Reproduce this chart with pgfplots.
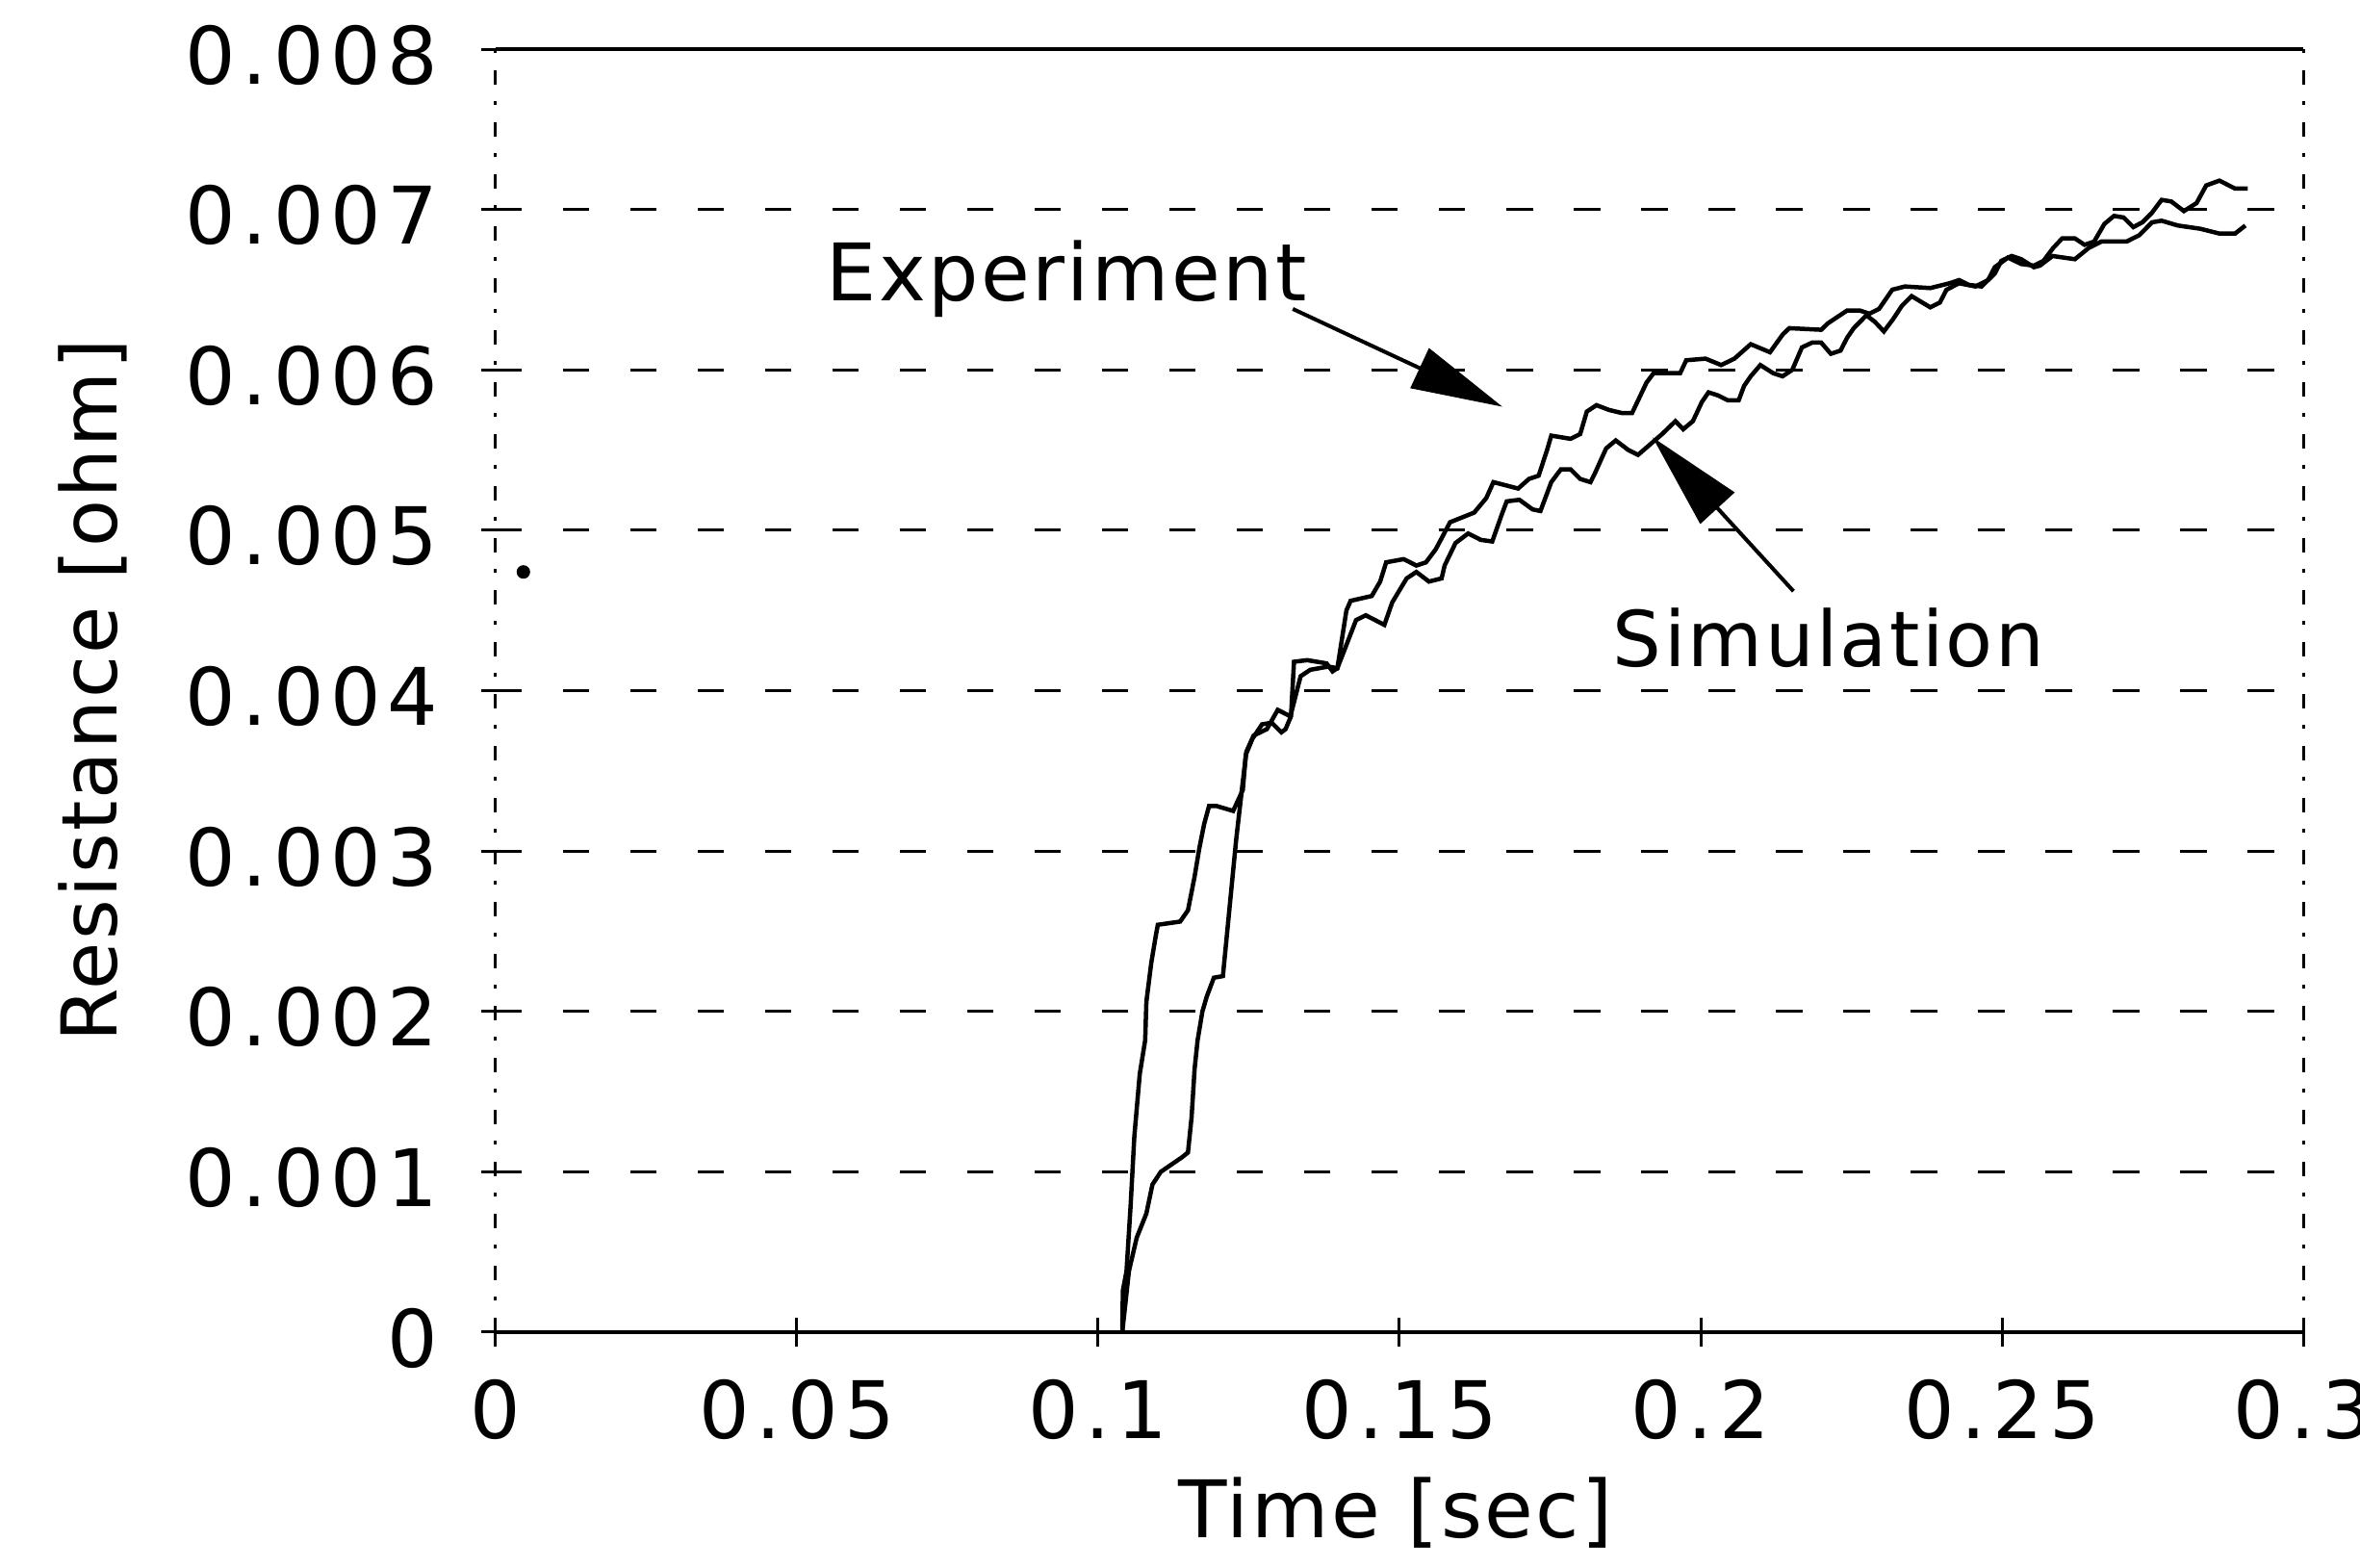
\documentclass[border=0pt]{standalone}
\usepackage{fontspec}
\setmainfont{DejaVu Sans}
\newfontfamily\plotfont{DejaVu Sans}[LetterSpace=8.0]
\newfontfamily\labelfont{DejaVu Sans}[LetterSpace=3.0]
\usepackage{pgfplots}
\pgfplotsset{compat=1.18}
\usetikzlibrary{arrows.meta}

\begin{document}
\begin{tikzpicture}[font=\plotfont\fontsize{16.5}{19}\selectfont]
\path[use as bounding box] (-103pt,-49pt) rectangle (387.4pt,276.8pt);
\begin{axis}[
  at={(0,0)}, anchor=south west,
  scale only axis, width=375.6pt, height=266.6pt,
  xmin=0, xmax=0.3, ymin=0, ymax=0.008,
  scaled y ticks=false, scaled x ticks=false,
  xtick={0,0.05,0.1,0.15,0.2,0.25,0.3},
  xticklabels={0,0.05,0.1,0.15,0.2,0.25,0.3},
  ytick={0,0.001,0.002,0.003,0.004,0.005,0.006,0.007,0.008},
  yticklabels={0,0.001,0.002,0.003,0.004,0.005,0.006,0.007,0.008},
  /pgf/number format/assume math mode=true,
  xtick pos=left, ytick pos=left,
  tick align=center, major tick length=6pt,
  tick style={black, line width=0.6pt},
  ymajorgrids, xmajorgrids=false,
  major grid style={black, line width=0.6pt, dash pattern=on 5.5pt off 8.5pt},
  separate axis lines,
  every outer x axis line/.append style={black, line width=0.7pt},
  every outer y axis line/.append style={black, line width=0.6pt, dash pattern=on 3pt off 3.5pt on 0.8pt off 3.5pt},
  yticklabel style={anchor=east, inner sep=0pt, xshift=-8.8pt, yshift=-1.2pt},
  xticklabel style={anchor=north, inner sep=0pt, yshift=-6.6pt},
  xlabel={\labelfont\fontsize{16.5}{19}\selectfont Time [sec]},
  ylabel={\labelfont\fontsize{16}{19}\selectfont Resistance [ohm]},
  every axis x label/.style={at={(axis description cs:0.498,-0.16)}, anchor=base},
  every axis y label/.style={at={(axis description cs:-0.223,0.5)}, anchor=center, rotate=90},
  clip=false,
]
% Experiment
\addplot[black, line width=0.9pt] coordinates {
(0.1040,0) (0.1041,0.00026) (0.1047,0.00038) (0.1054,0.00080) (0.1060,0.00122)
(0.1069,0.00161) (0.1078,0.00182) (0.1080,0.00206) (0.1088,0.00230) (0.1096,0.00248)
(0.1099,0.00254) (0.1136,0.00256) (0.1149,0.00263) (0.1160,0.00284) (0.1168,0.00302)
(0.1176,0.00317) (0.1184,0.00328) (0.1197,0.00328) (0.1224,0.00325) (0.1240,0.00338)
(0.1245,0.00360) (0.1256,0.00370) (0.1272,0.00379) (0.1288,0.00380) (0.1304,0.00374)
(0.1311,0.00376) (0.1320,0.00384) (0.1325,0.00418) (0.1347,0.00419) (0.1379,0.00417)
(0.1389,0.00412) (0.1397,0.00414) (0.1412,0.00450) (0.1419,0.00456) (0.1454,0.00459)
(0.1468,0.00468) (0.1478,0.00480) (0.1507,0.00482) (0.1528,0.00478) (0.1544,0.00480)
(0.1560,0.00488) (0.1570,0.00495) (0.1584,0.00505) (0.1624,0.00511) (0.1644,0.00520)
(0.1656,0.00530) (0.1697,0.00526) (0.1715,0.00532) (0.1731,0.00534) (0.1745,0.00550)
(0.1752,0.00559) (0.1784,0.00557) (0.1800,0.00560) (0.1811,0.00574) (0.1827,0.00578)
(0.1848,0.00575) (0.1870,0.00573) (0.1886,0.00573) (0.1910,0.00592) (0.1922,0.00598)
(0.1966,0.00598) (0.1976,0.00606) (0.2008,0.00607) (0.2034,0.00603) (0.2056,0.00607)
(0.2083,0.00616) (0.2115,0.00611) (0.2136,0.00622) (0.2147,0.00626) (0.2200,0.00625)
(0.2211,0.00629) (0.2243,0.00637) (0.2264,0.00637) (0.2280,0.00635) (0.2296,0.00638)
(0.2318,0.00650) (0.2339,0.00652) (0.2381,0.00651) (0.2413,0.00654) (0.2429,0.00656)
(0.2445,0.00653) (0.2466,0.00652) (0.2488,0.00660) (0.2499,0.00668) (0.2516,0.00671)
(0.2532,0.00669) (0.2553,0.00664) (0.2563,0.00665) (0.2584,0.00671) (0.2621,0.00669)
(0.2644,0.00676) (0.2665,0.00680) (0.2686,0.00680) (0.2707,0.00680) (0.2728,0.00684)
(0.2749,0.00692) (0.2765,0.00693) (0.2792,0.00690) (0.2829,0.00688) (0.2861,0.00685)
(0.2887,0.00685) (0.2904,0.00690)
};
% Simulation
\addplot[black, line width=0.9pt] coordinates {
(0.1040,0) (0.1051,0.00038) (0.1064,0.00059) (0.1080,0.00074) (0.1090,0.00092)
(0.1104,0.00100) (0.1139,0.00109) (0.1149,0.00112) (0.1155,0.00134) (0.1160,0.00164)
(0.1165,0.00182) (0.1173,0.00200) (0.1180,0.00209) (0.1192,0.00221) (0.1207,0.00222)
(0.1222,0.00280) (0.1229,0.00307) (0.1239,0.00340) (0.1246,0.00362) (0.1258,0.00372)
(0.1280,0.00376) (0.1298,0.00388) (0.1319,0.00384) (0.1336,0.00409) (0.1352,0.00413)
(0.1382,0.00415) (0.1397,0.00414) (0.1428,0.00444) (0.1444,0.00447) (0.1475,0.00441)
(0.1488,0.00455) (0.1512,0.00470) (0.1528,0.00474) (0.1549,0.00468) (0.1570,0.00470)
(0.1575,0.00478) (0.1593,0.00492) (0.1614,0.00498) (0.1635,0.00494) (0.1654,0.00493)
(0.1670,0.00510) (0.1678,0.00518) (0.1699,0.00519) (0.1721,0.00513) (0.1734,0.00512)
(0.1742,0.00520) (0.1752,0.00530) (0.1768,0.00538) (0.1784,0.00538) (0.1800,0.00532)
(0.1817,0.00530) (0.1825,0.00536) (0.1843,0.00551) (0.1859,0.00556) (0.1880,0.00550)
(0.1896,0.00547) (0.1936,0.00560) (0.1958,0.00568) (0.1971,0.00563) (0.1987,0.00568)
(0.2002,0.00580) (0.2013,0.00586) (0.2029,0.00584) (0.2045,0.00581) (0.2063,0.00581)
(0.2072,0.00590) (0.2083,0.00596) (0.2099,0.00603) (0.2120,0.00598) (0.2136,0.00596)
(0.2152,0.00600) (0.2168,0.00614) (0.2185,0.00617) (0.2200,0.00617) (0.2216,0.00610)
(0.2232,0.00612) (0.2243,0.00620) (0.2254,0.00626) (0.2275,0.00634) (0.2289,0.00630)
(0.2304,0.00624) (0.2320,0.00632) (0.2334,0.00640) (0.2350,0.00646) (0.2381,0.00639)
(0.2397,0.00642) (0.2408,0.00650) (0.2429,0.00654) (0.2456,0.00652) (0.2477,0.00656)
(0.2488,0.00664) (0.2499,0.00667) (0.2510,0.00670) (0.2532,0.00666) (0.2553,0.00665)
(0.2569,0.00668) (0.2585,0.00676) (0.2600,0.00682) (0.2621,0.00682) (0.2637,0.00678)
(0.2653,0.00680) (0.2670,0.00691) (0.2686,0.00696) (0.2702,0.00695) (0.2718,0.00689)
(0.2733,0.00692) (0.2749,0.00698) (0.2765,0.00706) (0.2781,0.00705) (0.2802,0.00699)
(0.2823,0.00704) (0.2839,0.00715) (0.2861,0.00718) (0.2887,0.00713) (0.2908,0.00713)
};
% stray dot
\addplot[only marks, mark=*, mark size=1.2pt, black] coordinates {(0.0046,0.00474)};
\node[anchor=base west, inner sep=0pt, font=\labelfont\fontsize{16.5}{19}\selectfont] at (axis cs:0.0547,0.00643) {Experiment};
\node[anchor=base west, inner sep=0pt, font=\labelfont\fontsize{16}{19}\selectfont] at (axis cs:0.1853,0.00415) {Simulation};
\draw[black, line width=0.8pt, -{Triangle[length=19pt,width=9pt]}] (axis cs:0.1323,0.00638) -- (axis cs:0.1671,0.00577);
\draw[black, line width=0.8pt, -{Triangle[length=20pt,width=9.5pt]}] (axis cs:0.2154,0.00462) -- (axis cs:0.1920,0.00558);
\end{axis}
\end{tikzpicture}
\end{document}
